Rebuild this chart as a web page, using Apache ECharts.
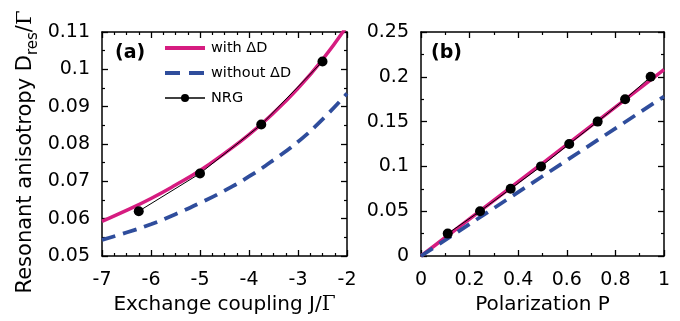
<!DOCTYPE html>
<html>
<head>
<meta charset="utf-8">
<script src="https://cdn.jsdelivr.net/npm/echarts@6/dist/echarts.min.js"></script>
<style>
html,body{margin:0;padding:0;background:#fff;}
#c{width:680px;height:321px;}
</style>
</head>
<body>
<div id="c"></div>
<script>
// Panel (a): exchange coupling J/Γ
var jWith = [-7, -6.5, -6, -5.5, -5, -4.5, -4, -3.5, -3, -2.5, -2];
var dWith = [0.0593, 0.0622, 0.0654, 0.0690, 0.0729, 0.0775, 0.0825, 0.0883, 0.0949, 0.1026, 0.1116];
var jWithout = [-7, -6.5, -6, -5.5, -5, -4.5, -4, -3.5, -3, -2.5, -2];
var dWithout = [0.0543, 0.0563, 0.0585, 0.0612, 0.0642, 0.0675, 0.0713, 0.0757, 0.0806, 0.0866, 0.0935];
var jNRG = [-6.25, -5, -3.75, -2.5];
var dNRG = [0.0620, 0.0721, 0.0852, 0.1021];

// Panel (b): polarization P
var pWith = [0, 0.5, 1];
var bWith = [0, 0.1035, 0.208];
var pWithout = [0, 0.5, 1];
var bWithout = [0, 0.089, 0.178];
var pNRG = [0.110, 0.243, 0.369, 0.494, 0.610, 0.727, 0.840, 0.945];
var bNRG = [0.025, 0.050, 0.075, 0.100, 0.125, 0.150, 0.175, 0.200];

// Legend names
var names = ['with \u0394D', 'without \u0394D', 'NRG'];

function zip(a, b) { return a.map(function (v, i) { return [v, b[i]]; }); }

var FONT = 'DejaVu Sans';
var PINK = '#d61c80';
var BLUE = '#2f4d9c';

function fmt(v) { return String(+(+v).toFixed(3)); }

function axis(kind, grid, min, max, interval, minorSplit, pos, showLabel, extra) {
  var a = {
    type: 'value', gridIndex: grid, min: min, max: max, interval: interval, position: pos,
    axisLine: { show: true, onZero: false, lineStyle: { color: '#000', width: 1.5 } },
    axisTick: { show: true, inside: true, length: 6, lineStyle: { color: '#000', width: 1.3 } },
    minorTick: { show: true, splitNumber: minorSplit, length: 3, lineStyle: { color: '#000', width: 1.2 } },
    splitLine: { show: false },
    axisLabel: { show: showLabel, color: '#000', fontFamily: FONT, fontSize: 19, margin: kind === 'x' ? 15 : 12, formatter: fmt }
  };
  for (var k in extra) a[k] = extra[k];
  return a;
}

var xNameA = {
  name: '{t|Exchange coupling J/}{g|\u0393}', nameLocation: 'middle', nameGap: 38,
  nameTextStyle: { rich: { t: { fontFamily: FONT, fontSize: 20, color: '#000' }, g: { fontFamily: 'DejaVu Serif', fontSize: 20, color: '#000' } } }
};
var xNameB = {
  name: 'Polarization P', nameLocation: 'middle', nameGap: 38,
  nameTextStyle: { fontFamily: FONT, fontSize: 20, color: '#000' }
};
var yNameA = {
  name: '{t|Resonant anisotropy D}{s|res}{t|/}{g|\u0393}', nameLocation: 'middle', nameGap: 66, nameRotate: 90,
  nameTextStyle: { rich: {
    t: { fontFamily: FONT, fontSize: 21, color: '#000', verticalAlign: 'bottom', lineHeight: 25 },
    s: { fontFamily: FONT, fontSize: 15, color: '#000', verticalAlign: 'bottom', lineHeight: 17, padding: [0, 0, -5, 0] },
    g: { fontFamily: 'DejaVu Serif', fontSize: 21, color: '#000', verticalAlign: 'bottom', lineHeight: 25, padding: [0, 16, 0, 0] }
  } }
};

var noSym = { color: 'rgba(0,0,0,0)', borderWidth: 0 };

var option = {
  animation: false,
  backgroundColor: '#fff',
  grid: [
    { left: 102, top: 32, width: 245, height: 224, containLabel: false, outerBoundsMode: 'none' },
    { left: 421, top: 32, width: 243, height: 224, containLabel: false, outerBoundsMode: 'none' }
  ],
  xAxis: [
    axis('x', 0, -7, -2, 1, 4, 'bottom', true, xNameA),
    axis('x', 0, -7, -2, 1, 4, 'top', false, {}),
    axis('x', 1, 0, 1, 0.2, 2, 'bottom', true, xNameB),
    axis('x', 1, 0, 1, 0.2, 2, 'top', false, {})
  ],
  yAxis: [
    axis('y', 0, 0.05, 0.11, 0.01, 2, 'left', true, yNameA),
    axis('y', 0, 0.05, 0.11, 0.01, 2, 'right', false, {}),
    axis('y', 1, 0, 0.25, 0.05, 2, 'left', true, {}),
    axis('y', 1, 0, 0.25, 0.05, 2, 'right', false, {})
  ],
  legend: {
    orient: 'vertical', left: 163, top: 40, padding: 0, itemWidth: 40, itemHeight: 10, itemGap: 9,
    data: [
      { name: names[0], itemStyle: noSym, lineStyle: { color: PINK, width: 4 } },
      { name: names[1], itemStyle: noSym, lineStyle: { color: BLUE, width: 4, type: [15, 9] } },
      { name: names[2], lineStyle: { color: '#000', width: 1.5 } }
    ],
    textStyle: { fontFamily: FONT, fontSize: 14.5, color: '#000', lineHeight: 16, padding: [0, 0, 0, 1] }
  },
  graphic: [
    { type: 'text', left: 115, top: 44, style: { text: '(a)', font: 'bold 19px "DejaVu Sans"', fill: '#000' } },
    { type: 'text', left: 431, top: 44, style: { text: '(b)', font: 'bold 19px "DejaVu Sans"', fill: '#000' } }
  ],
  series: [
    { name: names[0], type: 'line', xAxisIndex: 0, yAxisIndex: 0, data: zip(jWith, dWith), smooth: true, symbol: 'none', clip: true,
      lineStyle: { color: PINK, width: 3.5 }, itemStyle: { color: PINK }, z: 2 },
    { name: names[1], type: 'line', xAxisIndex: 0, yAxisIndex: 0, data: zip(jWithout, dWithout), smooth: true, symbol: 'none', clip: true,
      lineStyle: { color: BLUE, width: 3.8, type: [14, 8] }, itemStyle: { color: BLUE }, z: 2 },
    { name: names[2], type: 'line', xAxisIndex: 0, yAxisIndex: 0, data: zip(jNRG, dNRG), symbol: 'circle', symbolSize: 10, clip: true,
      lineStyle: { color: '#000', width: 1 }, itemStyle: { color: '#000' }, z: 3 },
    { name: names[0], type: 'line', xAxisIndex: 2, yAxisIndex: 2, data: zip(pWith, bWith), symbol: 'none', clip: true,
      lineStyle: { color: PINK, width: 3.5 }, itemStyle: { color: PINK }, z: 2 },
    { name: names[1], type: 'line', xAxisIndex: 2, yAxisIndex: 2, data: zip(pWithout, bWithout), symbol: 'none', clip: true,
      lineStyle: { color: BLUE, width: 3.8, type: [14, 8] }, itemStyle: { color: BLUE }, z: 2 },
    { name: names[2], type: 'line', xAxisIndex: 2, yAxisIndex: 2, data: zip(pNRG, bNRG), symbol: 'circle', symbolSize: 10, clip: true,
      lineStyle: { color: '#000', width: 1 }, itemStyle: { color: '#000' }, z: 3 }
  ]
};

var chart = echarts.init(document.getElementById('c'), null, { renderer: 'canvas' });
chart.setOption(option);
</script>
</body>
</html>
